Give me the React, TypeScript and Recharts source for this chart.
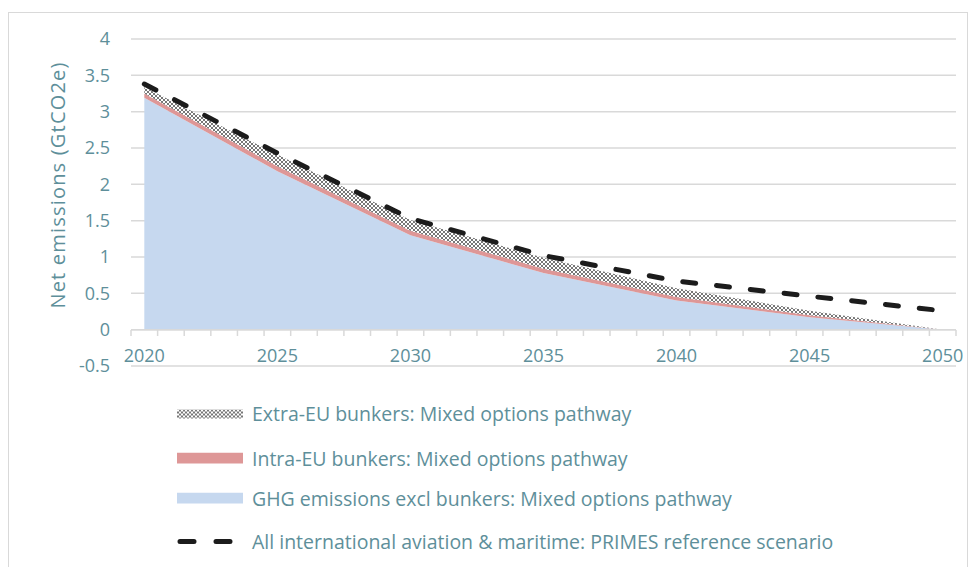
import { ComposedChart, Area, Line, XAxis, YAxis, CartesianGrid, ReferenceLine } from 'recharts';

// Values, 5-year steps (GtCO2e).
const YEARS = [2020, 2025, 2030, 2035, 2040, 2045, 2050];
const GHG_EXCL_BUNKERS = [3.19, 2.18, 1.3, 0.78, 0.4, 0.17, 0];
const INTRA_EU = [0.06, 0.07, 0.06, 0.06, 0.05, 0.03, 0];
const EXTRA_EU = [0.09, 0.16, 0.15, 0.15, 0.12, 0.06, 0];
const PRIMES_REF = [3.38, 2.43, 1.53, 1.02, 0.67, 0.46, 0.26];

const Y_TICKS = [-0.5, 0, 0.5, 1, 1.5, 2, 2.5, 3, 3.5, 4];
const X_LABELS = [2020, 2025, 2030, 2035, 2040, 2045, 2050];
const FIRST_YEAR = 2020;
const LAST_YEAR = 2050;

const LEGEND_LABELS = [
  'Extra-EU bunkers: Mixed options pathway',
  'Intra-EU bunkers: Mixed options pathway',
  'GHG emissions excl bunkers: Mixed options pathway',
  'All international aviation & maritime: PRIMES reference scenario',
];
const LEGEND_ROWS = [400, 445, 485, 528];

const TEXT = '#5e8f9a';
const GRID = '#d9d9d9';
const BLUE = '#c6d8ef';
const PINK = '#de9797';
const DASH = '#1c1c1c';
const FONT = '"Open Sans", sans-serif';

const data = YEARS.map((year, i) => ({
  year,
  ghg: GHG_EXCL_BUNKERS[i],
  intra: INTRA_EU[i],
  extra: EXTRA_EU[i],
  primes: PRIMES_REF[i],
}));

// tick marks sit on the category boundaries, labels on the category centres
const boundaryTicks: number[] = [];
for (let y = FIRST_YEAR - 0.5; y <= LAST_YEAR + 0.5; y += 1) boundaryTicks.push(y);
const xTicks = [...boundaryTicks, ...X_LABELS].sort((a, b) => a - b);

// px between the plot bottom (-0.5) and the zero line
const ZERO_OFFSET = 36;

function YearTick({ x, y, payload }: any) {
  const v = payload.value as number;
  if (v % 1 !== 0) {
    return <line x1={x} x2={x} y1={y - ZERO_OFFSET} y2={y - ZERO_OFFSET + 6} stroke={GRID} strokeWidth={1.5} />;
  }
  return (
    <text x={x} y={y - 11} textAnchor="middle" dominantBaseline="central" fill={TEXT} fontSize={18} fontFamily={FONT}>
      {v}
    </text>
  );
}

function DotPattern({ id }: { id: string }) {
  return (
    <pattern id={id} width={4} height={4} patternUnits="userSpaceOnUse">
      <rect width={4} height={4} fill="#ffffff" />
      <rect width={2} height={2} fill="#777777" />
      <rect x={2} y={2} width={2} height={2} fill="#777777" />
    </pattern>
  );
}

function Swatch({ index }: { index: number }) {
  if (index === 3) {
    return (
      <svg width={66} height={12}>
        <line x1={3} x2={60} y1={6} y2={6} stroke={DASH} strokeWidth={5} strokeDasharray="14 22" strokeLinecap="round" />
      </svg>
    );
  }
  const fill = index === 0 ? 'url(#dotsLegend)' : index === 1 ? PINK : BLUE;
  return (
    <svg width={66} height={12}>
      <defs>
        <DotPattern id="dotsLegend" />
      </defs>
      <rect x={0} y={index === 0 ? 2 : 0} width={66} height={index === 0 ? 9 : 11} fill={fill} />
    </svg>
  );
}

export default function App() {
  return (
    <div style={{ position: 'relative', marginTop: 4, width: 958, height: 560, border: `1px solid ${GRID}`, fontFamily: FONT }}>
      <ComposedChart width={958} height={395} data={data} margin={{ top: 26, right: 11, left: 0, bottom: 12 }}>
        <defs>
          <DotPattern id="dots" />
        </defs>
        <CartesianGrid vertical={false} stroke={GRID} strokeWidth={1.5} />
        <XAxis
          dataKey="year"
          type="number"
          domain={[FIRST_YEAR - 0.5, LAST_YEAR + 0.5]}
          ticks={xTicks}
          interval={0}
          tick={<YearTick />}
          tickLine={false}
          axisLine={false}
          tickSize={0}
          tickMargin={0}
          height={30}
        />
        <YAxis
          domain={[-0.5, 4]}
          ticks={Y_TICKS}
          interval={0}
          width={122}
          tickLine={false}
          axisLine={false}
          tickSize={0}
          tickMargin={21}
          tick={{ fill: TEXT, fontSize: 18, fontFamily: FONT }}
        />
        <ReferenceLine y={0} stroke={GRID} strokeWidth={1.5} />
        <Area dataKey="ghg" stackId="a" type="linear" fill={BLUE} fillOpacity={1} stroke="none" isAnimationActive={false} />
        <Area dataKey="intra" stackId="a" type="linear" fill={PINK} fillOpacity={1} stroke="none" isAnimationActive={false} />
        <Area dataKey="extra" stackId="a" type="linear" fill="url(#dots)" fillOpacity={1} stroke="none" isAnimationActive={false} />
        <Line
          dataKey="primes"
          type="linear"
          stroke={DASH}
          strokeWidth={5}
          strokeDasharray="13 21"
          strokeLinecap="round"
          dot={false}
          isAnimationActive={false}
        />
      </ComposedChart>

      <div
        style={{
          position: 'absolute',
          left: 48,
          top: 172,
          transform: 'translate(-50%, -50%) rotate(-90deg)',
          whiteSpace: 'nowrap',
          color: TEXT,
          fontSize: 20,
          letterSpacing: 1.2,
        }}
      >
        Net emissions (GtCO2e)
      </div>

      {LEGEND_LABELS.map((label, i) => (
        <div
          key={label}
          style={{
            position: 'absolute',
            left: 168,
            top: LEGEND_ROWS[i],
            transform: 'translateY(-50%)',
            display: 'flex',
            alignItems: 'center',
            whiteSpace: 'nowrap',
            color: TEXT,
            fontSize: 19.5,
          }}
        >
          <Swatch index={i} />
          <span style={{ marginLeft: 9 }}>{label}</span>
        </div>
      ))}
    </div>
  );
}
